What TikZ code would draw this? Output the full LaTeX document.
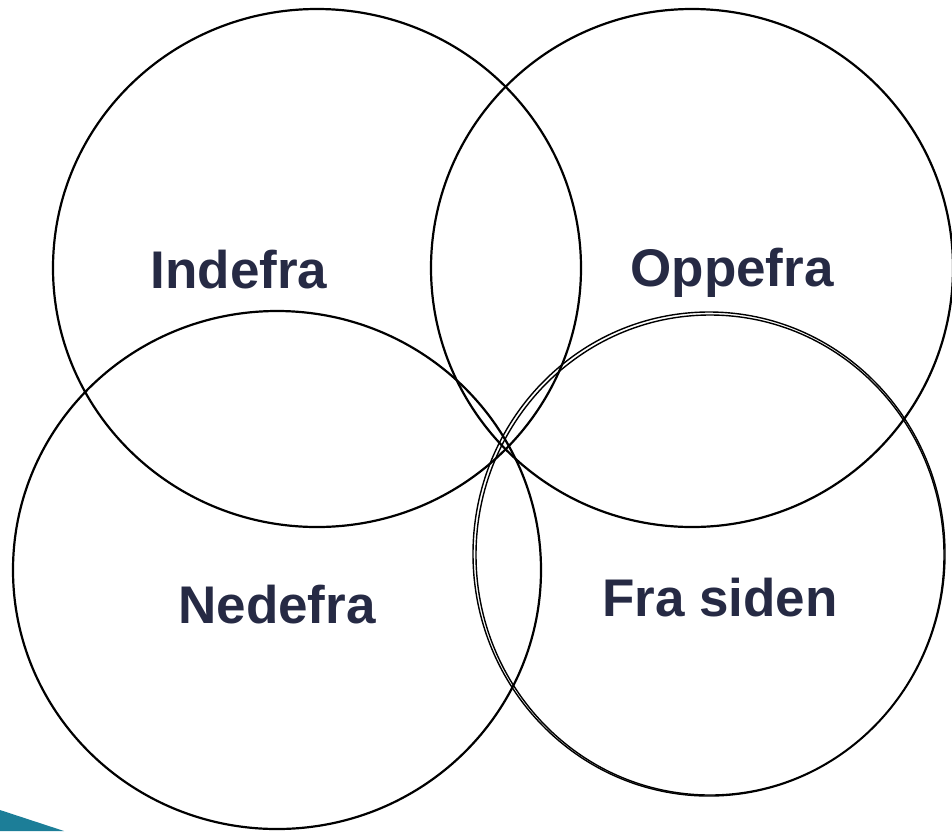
\documentclass[tikz,border=0pt]{standalone}
\usepackage{fontspec}
\setmainfont{Liberation Sans}
\definecolor{txt}{HTML}{262A44}
\definecolor{teal}{HTML}{1C7E98}
\begin{document}
\begin{tikzpicture}[x=1pt,y=-1pt,
  ring/.style={draw=black,line width=2.2pt},
  lbl/.style={text=txt,font=\fontsize{53}{60}\selectfont\bfseries,inner sep=0pt}]
\useasboundingbox (0,0) rectangle (952,831);
\fill[teal] (0,810) -- (64,831) -- (0,831) -- cycle;
\draw[ring] (317,268) ellipse [x radius=264, y radius=259];
\draw[ring] (692,268) ellipse [x radius=261, y radius=259];
\draw[ring] (277,570) ellipse [x radius=264, y radius=259];
\draw[draw=black,line width=1.4pt] (709,554) ellipse [x radius=236, y radius=242];
\draw[draw=black,line width=1.4pt] (710,555) ellipse [x radius=234, y radius=240];
\node[lbl] (indefra) at (239,270) {Indefra};
\node[lbl] (oppefra) at (732,273) {Oppefra};
\node[lbl] (nedefra) at (277,605) {Nedefra};
\node[lbl] (frasiden) at (720,598) {Fra siden};
\end{tikzpicture}
\end{document}
